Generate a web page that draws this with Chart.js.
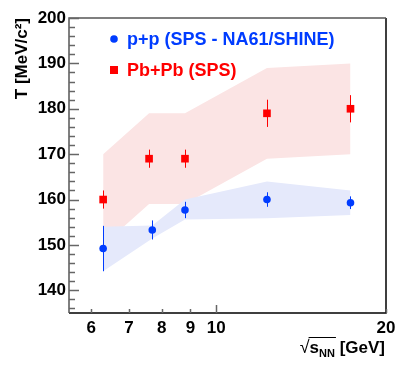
<!DOCTYPE html>
<html>
<head>
<meta charset="utf-8">
<script src="https://cdn.jsdelivr.net/npm/chart.js@4/dist/chart.umd.min.js"></script>
<style>
  html, body { margin: 0; padding: 0; background: #fff; }
  #wrap { width: 407px; height: 369px; }
</style>
</head>
<body>
<div id="wrap"><canvas id="myChart" width="407" height="369"></canvas></div>
<script>
// p+p (NA61/SHINE)
var ppEnergy = [6.3, 7.7, 8.8, 12.3, 17.3];
var ppTemp = [149.2, 153.3, 157.7, 160.0, 159.3];
var ppErr = [5.0, 2.1, 1.8, 1.6, 1.4];
var ppBandHigh = [154.0, 154.3, 160.0, 164.0, 162.0];
var ppBandLow = [144.2, 151.4, 155.6, 155.9, 156.6];

// Pb+Pb (SPS)
var pbEnergy = [6.3, 7.6, 8.8, 12.3, 17.3];
var pbTemp = [160, 169, 169, 179, 180];
var pbErr = [2, 2, 2, 3, 3];
var pbBandHigh = [170, 179, 179, 189, 190];
var pbBandLow = [150, 159, 159, 169, 170];

var xTickValues = [6, 7, 8, 9, 10, 20];
var yTickValues = [140, 150, 160, 170, 180, 190, 200];

var blue = 'rgb(0, 60, 255)';
var red = 'rgb(255, 0, 0)';
var blueBand = 'rgb(229, 233, 251)';
var pinkBand = 'rgb(251, 228, 228)';
var font = 'Liberation Sans, Arial, Helvetica, sans-serif';

function pts(xs, ys) {
    return xs.map(function (x, i) { return { x: x, y: ys[i] }; });
}

// frame, inward ticks, error bars, legend and x title
var rootStyle = {
    id: 'rootStyle',
    afterDatasetsDraw: function (chart) {
        var ctx = chart.ctx;
        var xs = chart.scales.x, ys = chart.scales.y;
        ctx.save();
        ctx.lineWidth = 1;
        [[ppEnergy, ppTemp, ppErr, blue], [pbEnergy, pbTemp, pbErr, red]].forEach(function (s) {
            ctx.strokeStyle = s[3];
            s[0].forEach(function (x, i) {
                var px = Math.round(xs.getPixelForValue(x)) + 0.5;
                ctx.beginPath();
                ctx.moveTo(px, ys.getPixelForValue(s[1][i] - s[2][i]));
                ctx.lineTo(px, ys.getPixelForValue(s[1][i] + s[2][i]));
                ctx.stroke();
            });
        });
        ctx.restore();
    },
    afterDraw: function (chart) {
        var ctx = chart.ctx;
        var a = chart.chartArea;
        var xs = chart.scales.x, ys = chart.scales.y;
        ctx.save();

        // frame
        ctx.lineWidth = 1.5;
        ctx.strokeStyle = '#000';
        ctx.beginPath();
        ctx.moveTo(a.right, a.top);
        ctx.lineTo(a.right, a.bottom);
        ctx.lineTo(a.left, a.bottom);
        ctx.stroke();
        ctx.strokeStyle = '#555';
        ctx.beginPath();
        ctx.moveTo(a.left, a.bottom);
        ctx.lineTo(a.left, a.top);
        ctx.lineTo(a.right, a.top);
        ctx.stroke();

        // y ticks (major every 10, minor every 2)
        ctx.strokeStyle = '#666';
        ctx.lineWidth = 1.5;
        for (var v = 136; v <= 200; v += 2) {
            var py = Math.round(ys.getPixelForValue(v)) + 0.5;
            var len = (v % 10 === 0) ? 10 : 6;
            ctx.beginPath();
            ctx.moveTo(a.left, py);
            ctx.lineTo(a.left + len, py);
            ctx.stroke();
        }
        // x ticks
        xTickValues.forEach(function (t) {
            var px = Math.round(xs.getPixelForValue(t)) + 0.5;
            var len = (t === 10) ? 8 : 4;
            ctx.beginPath();
            ctx.moveTo(px, a.bottom);
            ctx.lineTo(px, a.bottom - len);
            ctx.stroke();
        });

        // legend
        ctx.fillStyle = blue;
        ctx.beginPath();
        ctx.arc(114, 39, 3.8, 0, Math.PI * 2);
        ctx.fill();
        ctx.fillStyle = red;
        ctx.fillRect(110, 66, 8, 8);
        ctx.font = 'bold 18px ' + font;
        ctx.textBaseline = 'middle';
        ctx.textAlign = 'left';
        ctx.fillStyle = blue;
        ctx.fillText('p+p (SPS - NA61/SHINE)', 127, 40);
        ctx.fillStyle = red;
        ctx.fillText('Pb+Pb (SPS)', 127, 71);

        // x title: sqrt(s_NN) [GeV]
        ctx.fillStyle = '#000';
        ctx.textBaseline = 'alphabetic';
        var base = 353;
        var fBig = 'bold 17px ' + font, fSub = 'bold 11px ' + font;
        ctx.font = fBig;
        var wS = ctx.measureText('s').width;
        var wG = ctx.measureText(' [GeV]').width;
        ctx.font = fSub;
        var wN = ctx.measureText('NN').width;
        ctx.font = '18px ' + font;
        var wR = ctx.measureText('\u221A').width;
        var x0 = 385 - (wR + wS + wN + wG);
        ctx.fillText('\u221A', x0, base);
        ctx.font = fBig;
        ctx.fillText('s', x0 + wR, base);
        ctx.font = fSub;
        ctx.fillText('NN', x0 + wR + wS, base + 4);
        ctx.font = fBig;
        ctx.fillText(' [GeV]', x0 + wR + wS + wN, base);
        ctx.lineWidth = 1;
        ctx.strokeStyle = '#000';
        ctx.beginPath();
        ctx.moveTo(x0 + wR - 1, base - 15.5);
        ctx.lineTo(x0 + wR + wS + wN + 1, base - 15.5);
        ctx.stroke();
        ctx.restore();
    }
};

var myChart = new Chart(document.getElementById('myChart'), {
    type: 'scatter',
    data: {
        datasets: [{
            label: 'p+p (SPS - NA61/SHINE)',
            data: pts(ppEnergy, ppTemp),
            pointStyle: 'circle',
            pointRadius: 3.8,
            backgroundColor: blue,
            borderColor: blue,
            borderWidth: 0,
            order: 0
        }, {
            label: 'Pb+Pb (SPS)',
            data: pts(pbEnergy, pbTemp),
            pointStyle: 'rect',
            pointRadius: 5.4,
            backgroundColor: red,
            borderColor: red,
            borderWidth: 0,
            order: 0
        }, {
            type: 'line',
            data: pts(ppEnergy, ppBandHigh),
            showLine: true,
            borderWidth: 0,
            borderColor: blueBand,
            pointRadius: 0,
            tension: 0,
            order: 1
        }, {
            type: 'line',
            data: pts(ppEnergy, ppBandLow),
            showLine: true,
            borderWidth: 0,
            borderColor: blueBand,
            backgroundColor: blueBand,
            fill: '-1',
            pointRadius: 0,
            tension: 0,
            order: 1
        }, {
            type: 'line',
            data: pts(pbEnergy, pbBandHigh),
            showLine: true,
            borderWidth: 0,
            borderColor: pinkBand,
            pointRadius: 0,
            tension: 0,
            order: 2
        }, {
            type: 'line',
            data: pts(pbEnergy, pbBandLow),
            showLine: true,
            borderWidth: 0,
            borderColor: pinkBand,
            backgroundColor: pinkBand,
            fill: '-1',
            pointRadius: 0,
            tension: 0,
            order: 2
        }]
    },
    options: {
        responsive: false,
        animation: false,
        layout: { padding: { top: 18, right: 21, left: 0, bottom: 0 } },
        plugins: {
            legend: { display: false },
            tooltip: { enabled: false }
        },
        scales: {
            x: {
                type: 'logarithmic',
                min: 5.48,
                max: 20,
                grid: { display: false, drawTicks: false },
                border: { display: false },
                afterBuildTicks: function (scale) {
                    scale.ticks = xTickValues.map(function (v) { return { value: v }; });
                },
                afterFit: function (scale) { scale.height = 56; },
                ticks: {
                    color: '#000',
                    padding: 5,
                    maxRotation: 0,
                    autoSkip: false,
                    font: { family: font, size: 17, weight: 'bold' },
                    callback: function (v) { return String(v); }
                }
            },
            y: {
                min: 135,
                max: 200,
                grid: { display: false, drawTicks: false },
                border: { display: false },
                afterBuildTicks: function (scale) {
                    scale.ticks = yTickValues.map(function (v) { return { value: v }; });
                },
                afterFit: function (scale) { scale.width = 69; },
                ticks: {
                    color: '#000',
                    padding: 3,
                    font: { family: font, size: 17, weight: 'bold' }
                },
                title: {
                    display: true,
                    text: 'T [MeV/c\u00B2]',
                    align: 'end',
                    color: '#000',
                    padding: { top: 12, bottom: 0 },
                    font: { family: font, size: 17, weight: 'bold' }
                }
            }
        }
    },
    plugins: [rootStyle]
});
</script>
</body>
</html>
